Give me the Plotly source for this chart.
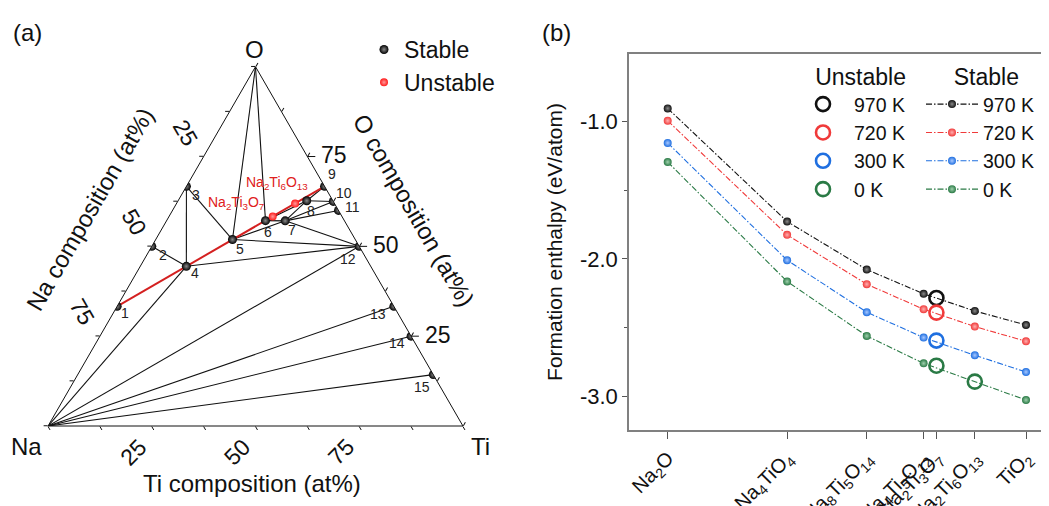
import plotly.graph_objects as go

# The page body has an 8 px default margin, so the figure is sized to fill the rest of the window
W, H = 1049, 506
OFF = 8
FW, FH = W - OFF, H - OFF
FONT = "Liberation Sans, Arial, sans-serif"

# ---------------- Panel (a) data: ternary Na-Ti-O (at%) ----------------
point_ids = ["1", "2", "3", "4", "5", "6", "7", "8", "9", "10", "11", "12", "13", "14", "15"]
na_at = [66.7, 50.0, 33.3, 44.4, 29.6, 19.0, 14.3, 6.3, 0.0, 0.0, 0.0, 0.0, 0.0, 0.0, 0.0]
ti_at = [0.0, 0.0, 0.0, 11.1, 18.5, 23.8, 28.6, 31.0, 33.3, 37.5, 40.0, 50.0, 66.7, 75.0, 85.7]
o_at = [33.3, 50.0, 66.7, 44.4, 51.9, 57.1, 57.1, 62.7, 66.7, 62.5, 60.0, 50.0, 33.3, 25.0, 14.3]

unstable_labels = ["Na<sub>2</sub>Ti<sub>3</sub>O<sub>7</sub>", "Na<sub>2</sub>Ti<sub>6</sub>O<sub>13</sub>"]
unstable_na = [16.7, 9.5]
unstable_ti = [25.0, 28.6]
unstable_o = [58.3, 61.9]

corner_ids = ["Na", "Ti", "O"]
corner_na = [100.0, 0.0, 0.0]
corner_ti = [0.0, 100.0, 0.0]
corner_o = [0.0, 0.0, 100.0]

tie_lines = [("O", "5"), ("O", "6"), ("3", "4"), ("3", "5"), ("2", "4"), ("Na", "4"),
             ("Na", "12"), ("Na", "13"), ("Na", "14"), ("Na", "15"), ("4", "12"),
             ("5", "12"), ("5", "7"), ("6", "7"), ("7", "12"), ("7", "8"), ("6", "8"),
             ("8", "9"), ("8", "10"), ("7", "10"), ("7", "11")]
red_tie = ("1", "9")
axis_tick_values = [25, 50, 75]

# ---------------- Panel (b) data: formation enthalpy ----------------
compounds = ["Na<sub>2</sub>O", "Na<sub>4</sub>TiO<sub>4</sub>", "Na<sub>8</sub>Ti<sub>5</sub>O<sub>14</sub>",
             "Na<sub>4</sub>Ti<sub>5</sub>O<sub>12</sub>", "Na<sub>2</sub>Ti<sub>3</sub>O<sub>7</sub>",
             "Na<sub>2</sub>Ti<sub>6</sub>O<sub>13</sub>", "TiO<sub>2</sub>"]
tio2_fraction = [0.0, 1 / 3, 5 / 9, 5 / 7, 3 / 4, 6 / 7, 1.0]
temperatures = ["970 K", "720 K", "300 K", "0 K"]
h_970 = [-0.903, -1.728, -2.078, -2.255, -2.285, -2.380, -2.482]
h_720 = [-0.993, -1.825, -2.185, -2.367, -2.392, -2.494, -2.601]
h_300 = [-1.155, -2.010, -2.389, -2.574, -2.596, -2.703, -2.825]
h_0 = [-1.294, -2.165, -2.562, -2.762, -2.779, -2.895, -3.029]
stable_970 = [True, True, True, True, False, True, True]
stable_720 = [True, True, True, True, False, True, True]
stable_300 = [True, True, True, True, False, True, True]
stable_0 = [True, True, True, True, False, False, True]
y_ticks = [-1.0, -2.0, -3.0]
y_minor_ticks = [-0.5, -1.5, -2.5]

# ---------------- styles / layout (positions in window pixels) ----------------
series_colors = ["#111111", "#f03a3a", "#1f6fe0", "#2a7a45"]
series_centers = ["#8a8a8a", "#ffb0b0", "#a8c8ff", "#9fd0ad"]

TRI_L, TRI_R, TRI_TOP, TRI_BOT = 48.3, 462.7, 66.7, 426.0
tri_h = TRI_BOT - TRI_TOP
tri_xc = (TRI_L + TRI_R) / 2
PLOT_L, PLOT_R, PLOT_T, PLOT_B = 629, W, 54, 430
X_AT_NA2O, X_AT_TIO2 = 667.7, 1026.0
Y_AT_M1, Y_AT_M3 = 121.7, 396.0


def px_x(x):
    return (x - OFF) / FW


def px_y(y):
    return 1 - (y - OFF) / FH


tern_domain_y = [px_y(TRI_BOT), px_y(TRI_TOP)]
tern_domain_x = [px_x(tri_xc) - 0.21, px_x(tri_xc) + 0.21]

# data ranges that put the plot frame where it is in the reference
x_per_px = 1.0 / (X_AT_TIO2 - X_AT_NA2O)
x_range = [(PLOT_L - X_AT_NA2O) * x_per_px, 1.0 + (PLOT_R - X_AT_TIO2) * x_per_px]
y_per_px = 2.0 / (Y_AT_M3 - Y_AT_M1)
y_range = [-3.0 - (PLOT_B - Y_AT_M3) * y_per_px, -1.0 + (Y_AT_M1 - PLOT_T) * y_per_px]

label_offsets = [(8, 7), (11, 9), (9, 9), (9, 7), (7, 9), (3, 11), (7, 9), (4, 10), (8, -12),
                 (11, -8), (14, -3), (-11, 13), (-16, 8), (-14, 7), (-11, 12)]

comp = {}
for pid, n, t, o in zip(point_ids, na_at, ti_at, o_at):
    comp[pid] = (n, t, o)
for pid, n, t, o in zip(corner_ids, corner_na, corner_ti, corner_o):
    comp[pid] = (n, t, o)


def tern_px(na, ti, o):
    s = na + ti + o
    a, c = o / s, ti / s
    return TRI_L + (TRI_R - TRI_L) * (c + a / 2), TRI_BOT - tri_h * a


annotations = []


def add_text(xp, yp, text, size, angle=0, color="#111111", xanchor="center", yanchor="middle"):
    annotations.append(dict(x=px_x(xp), y=px_y(yp), xref="paper", yref="paper", text=text,
                            showarrow=False, textangle=angle, xanchor=xanchor, yanchor=yanchor,
                            font=dict(family=FONT, size=size, color=color)))


fig = go.Figure()

# tie lines
ta, tb, tc = [], [], []
for p, q in tie_lines:
    for k in (p, q):
        n, t, o = comp[k]
        ta.append(o); tb.append(n); tc.append(t)
    ta.append(None); tb.append(None); tc.append(None)
fig.add_trace(go.Scatterternary(a=ta, b=tb, c=tc, mode="lines", line=dict(color="#111111", width=1.1),
                                showlegend=False, hoverinfo="skip"))
ra = [comp[k][2] for k in red_tie]
rb = [comp[k][0] for k in red_tie]
rc = [comp[k][1] for k in red_tie]
fig.add_trace(go.Scatterternary(a=ra, b=rb, c=rc, mode="lines", line=dict(color="#d42020", width=2),
                                showlegend=False, hoverinfo="skip"))
fig.add_trace(go.Scatterternary(a=o_at, b=na_at, c=ti_at, mode="markers", name="Stable",
                                marker=dict(size=9, color="#000000",
                                            gradient=dict(type="radial", color="#8a8a8a")),
                                legend="legend"))
fig.add_trace(go.Scatterternary(a=unstable_o, b=unstable_na, c=unstable_ti, mode="markers", name="Unstable",
                                marker=dict(size=8, color="#ff1a1a",
                                            gradient=dict(type="radial", color="#ff9a9a")),
                                legend="legend"))

# point numbers
for pid, n, t, o, (dx, dy) in zip(point_ids, na_at, ti_at, o_at, label_offsets):
    x, y = tern_px(n, t, o)
    add_text(x + dx, y + dy, pid, 14, color="#222222")

# unstable compound labels
ux, uy = tern_px(unstable_na[0], unstable_ti[0], unstable_o[0])
add_text(ux - 37, uy - 14, unstable_labels[0], 14, color="#e02020")
ux, uy = tern_px(unstable_na[1], unstable_ti[1], unstable_o[1])
add_text(ux - 18, uy - 21, unstable_labels[1], 14, color="#e02020")

shapes = []
for v in axis_tick_values:
    # Na composition (left edge)
    x, y = tern_px(v, 0, 100 - v)
    add_text(x - 18, y - 24, str(v), 23, angle=60)
    # Ti composition (bottom edge)
    x, y = tern_px(100 - v, v, 0)
    add_text(x - 18.5, y + 25.5, str(v), 23, angle=-45)
    # O composition (right edge)
    x, y = tern_px(0, 100 - v, v)
    add_text(x + 12, y - 1.5, str(v), 23, xanchor="left")
    shapes.append(dict(type="line", xref="paper", yref="paper", x0=px_x(x), x1=px_x(x + 8),
                       y0=px_y(y), y1=px_y(y), line=dict(color="#111111", width=1)))

# corner and axis titles
add_text(tri_xc - 1.5, TRI_TOP - 17, "O", 24)
add_text(TRI_L - 21.5, TRI_BOT + 20, "Na", 24)
add_text(TRI_R + 17.5, TRI_BOT + 20.5, "Ti", 24)
add_text(90, 210, "Na composition (at%)", 24, angle=-60)
add_text(413, 210, "O composition (at%)", 24, angle=60)
add_text(tri_xc - 3.5, 483, "Ti composition (at%)", 24)
add_text(27.5, 32, "(a)", 24)
add_text(556, 32, "(b)", 24)

# ---------------- Panel (b) traces ----------------
series = [(temperatures[0], h_970, stable_970), (temperatures[1], h_720, stable_720),
          (temperatures[2], h_300, stable_300), (temperatures[3], h_0, stable_0)]
for (name, hv, st), col, cen in zip(series, series_colors, series_centers):
    xs = [x for x, s in zip(tio2_fraction, st) if s]
    ys = [y for y, s in zip(hv, st) if s]
    fig.add_trace(go.Scatter(x=xs, y=ys, mode="lines+markers", name=name, xaxis="x", yaxis="y",
                             line=dict(color=col, width=1.1, dash="6px,2px,1.5px,2px"),
                             marker=dict(size=8, color=col, gradient=dict(type="radial", color=cen)),
                             legend="legend3"))
for (name, hv, st), col in zip(series, series_colors):
    xs = [x for x, s in zip(tio2_fraction, st) if not s]
    ys = [y for y, s in zip(hv, st) if not s]
    fig.add_trace(go.Scatter(x=xs, y=ys, mode="markers", name=name, xaxis="x", yaxis="y",
                             marker=dict(size=14, symbol="circle-open", color=col, line=dict(width=2.6)),
                             legend="legend2"))

tern_axis = dict(showticklabels=False, ticks="outside", ticklen=4, tickwidth=1, tickcolor="#111111",
                 dtick=12.5, tick0=0, linecolor="#111111", linewidth=1, showgrid=False, title=dict(text=""))

fig.update_layout(
    width=FW, height=FH, margin=dict(l=0, r=0, t=0, b=0, autoexpand=False),
    paper_bgcolor="white", plot_bgcolor="white",
    font=dict(family=FONT, color="#111111"),
    ternary=dict(sum=100, domain=dict(x=tern_domain_x, y=tern_domain_y), bgcolor="white",
                 aaxis=tern_axis, baxis=tern_axis, caxis=tern_axis),
    xaxis=dict(domain=[px_x(PLOT_L), 1.0], range=x_range, tickmode="array", tickvals=tio2_fraction,
               ticktext=compounds, tickangle=-45, ticks="outside", ticklen=7, tickcolor="#555555",
               showline=True, linecolor="#808080", linewidth=1.5, mirror=True, showgrid=False,
               zeroline=False, tickfont=dict(size=20), anchor="y", automargin=False),
    yaxis=dict(domain=[px_y(PLOT_B), px_y(PLOT_T)], range=y_range, tickmode="array",
               tickvals=y_ticks, ticktext=["%.1f" % v for v in y_ticks], ticks="outside", ticklen=5,
               tickcolor="#555555", minor=dict(tickvals=y_minor_ticks, ticks="outside", ticklen=3,
                                               tickcolor="#555555"),
               showline=True, linecolor="#808080", linewidth=1.5, showgrid=False, zeroline=False,
               tickfont=dict(size=22), title=dict(text="Formation enthalpy (eV/atom)", font=dict(size=21),
                                                  standoff=12), anchor="x", automargin=False),
    legend=dict(x=px_x(364), y=px_y(28), xanchor="left", yanchor="top", font=dict(size=23),
                bgcolor="rgba(0,0,0,0)", itemwidth=30),
    legend2=dict(x=px_x(792), y=px_y(55), xanchor="left", yanchor="top", font=dict(size=19.5),
                 bgcolor="rgba(0,0,0,0)", itemwidth=52, tracegroupgap=0,
                 title=dict(text="&nbsp;&nbsp;&nbsp;Unstable", side="top center", font=dict(size=23))),
    legend3=dict(x=px_x(921), y=px_y(55), xanchor="left", yanchor="top", font=dict(size=19.5),
                 bgcolor="rgba(0,0,0,0)", itemwidth=52, tracegroupgap=0,
                 title=dict(text="&nbsp;&nbsp;Stable", side="top center", font=dict(size=23))),
    annotations=annotations, shapes=shapes,
)

fig.write_html("out.html")
